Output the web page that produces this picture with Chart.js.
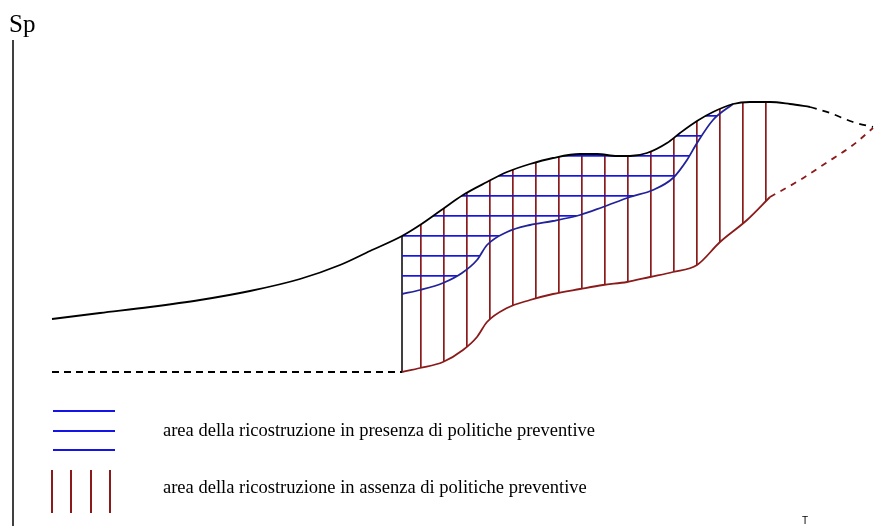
<!DOCTYPE html>
<html>
<head>
<meta charset="utf-8">
<script src="https://cdn.jsdelivr.net/npm/chart.js@4/dist/chart.umd.min.js"></script>
<style>
  html, body { margin: 0; padding: 0; background: #fff; }
  #wrap { position: relative; width: 877px; height: 526px; overflow: hidden; }
  #chart { position: absolute; left: 0; top: 0; }
  .lbl { position: absolute; white-space: nowrap; color: #000; }
  .serif { font-family: "Liberation Serif", "DejaVu Serif", serif; }
  .sw-h { position: absolute; height: 2px; background: #1414e6; }
  .sw-v { position: absolute; width: 2px; background: #8b1a1a; }
</style>
</head>
<body>
<div id="wrap">
  <canvas id="chart" width="877" height="526"></canvas>
  <div class="lbl serif" style="left:9px; top:11px; font-size:25px; line-height:25px;">Sp</div>
  <div class="lbl" style="left:802px; top:516px; font-family:'Liberation Sans', sans-serif; font-size:10px; line-height:10px;">T</div>
  <div class="sw-h" style="left:53px; top:410px; width:62px;"></div>
  <div class="sw-h" style="left:53px; top:430px; width:62px;"></div>
  <div class="sw-h" style="left:53px; top:449px; width:62px;"></div>
  <div class="sw-v" style="left:51px; top:470px; height:43px;"></div>
  <div class="sw-v" style="left:70px; top:470px; height:43px;"></div>
  <div class="sw-v" style="left:90px; top:470px; height:43px;"></div>
  <div class="sw-v" style="left:109px; top:470px; height:43px;"></div>
  <div class="lbl serif" id="leg1" style="left:163px; top:421px; font-size:18.5px; line-height:18.5px;"></div>
  <div class="lbl serif" id="leg2" style="left:163px; top:478px; font-size:18.5px; line-height:18.5px;"></div>
</div>
<script>
// time axis (t) and level axis (Sp)
const tMin = 0, tMax = 877;
const spMin = 0, spMax = 526;

// andamento senza evento (curva superiore, tratto continuo)
const blackT  = [52, 100, 150, 200, 250, 300, 340, 370, 402, 420, 440, 463, 487, 507, 530, 553, 580, 597, 617, 630, 647, 667, 680, 697, 713, 733, 750, 770, 790, 810];
const blackSp = [207, 213, 219, 226, 235, 247, 261, 275, 290, 301, 315, 331, 344, 354, 362, 368, 372, 372, 370, 370, 373, 383, 393, 405, 414, 422, 424, 424, 422, 419];
// prosecuzione tratteggiata
const blackTailT  = [810, 830, 853, 873];
const blackTailSp = [419, 413, 404, 399];

// ricostruzione con politiche preventive (blu)
const blueT  = [402, 420, 443, 462, 477, 487, 507, 530, 553, 580, 603, 630, 653, 673, 687, 697, 713, 733];
const blueSp = [232, 236, 243, 253, 266, 281, 294, 301, 305, 311, 319, 329, 336, 348, 366, 383, 406, 422];

// ricostruzione senza politiche preventive (rosso)
const redT  = [402, 420, 443, 463, 477, 487, 507, 530, 553, 580, 603, 627, 650, 673, 697, 720, 747, 770];
const redSp = [154, 158, 164, 176, 189, 204, 218, 226, 232, 237, 241, 244, 249, 254, 261, 284, 306, 329];
const redTailT  = [770, 800, 823, 853, 873];
const redTailSp = [329, 346, 361, 381, 398];

// evento: caduta verticale e livello base tratteggiato
const shockT  = [402, 402];
const shockSp = [154, 290];
const baseT  = [52, 402];
const baseSp = [154, 154];

// asse Sp
const axisT  = [13, 13];
const axisSp = [0, 486];

const legendLabels = [
    "area della ricostruzione in presenza di politiche preventive",
    "area della ricostruzione in assenza di politiche preventive"
];
document.getElementById("leg1").textContent = legendLabels[0];
document.getElementById("leg2").textContent = legendLabels[1];

function pts(xs, ys) {
    return xs.map((x, i) => ({x: x, y: ys[i]}));
}

function hatch(vertical, color, step, offset) {
    // small tile with one line, repeated as a canvas pattern
    const c = document.createElement("canvas");
    c.width = vertical ? step : 4;
    c.height = vertical ? 4 : step;
    const g = c.getContext("2d");
    g.fillStyle = color;
    if (vertical) g.fillRect(0, 0, 1.7, 4);
    else g.fillRect(0, 0, 4, 1.7);
    const p = document.createElement("canvas").getContext("2d").createPattern(c, "repeat");
    p.setTransform(vertical ? new DOMMatrix([1, 0, 0, 1, offset, 0]) : new DOMMatrix([1, 0, 0, 1, 0, offset]));
    return p;
}

const BLACK = "#000000";
const RED = "#8b1a1a";
const BLUE = "#22229a";

const vPattern = hatch(true, RED, 23, 420 - 23 * 18);
const hPattern = hatch(false, "#1414e6", 20, 155 - 20 * 7);

const line = (data, color, extra) => Object.assign({
    data: data,
    borderColor: color,
    borderWidth: 1.8,
    pointRadius: 0,
    fill: false,
    cubicInterpolationMode: "monotone"
}, extra || {});

new Chart(document.getElementById("chart"), {
    type: "line",
    data: {
        datasets: [
            line(pts(blackT, blackSp), BLACK),
            line(pts(blueT, blueSp), BLUE, {fill: {target: 0}, backgroundColor: hPattern}),
            line(pts(redT, redSp), RED, {fill: {target: 0}, backgroundColor: vPattern}),
            line(pts(shockT, shockSp), BLACK, {borderWidth: 1.5}),
            line(pts(baseT, baseSp), BLACK, {borderDash: [7, 5]}),
            line(pts(blackTailT, blackTailSp), BLACK, {borderDash: [7, 6]}),
            line(pts(redTailT, redTailSp), RED, {borderDash: [6, 6]}),
            line(pts(axisT, axisSp), BLACK, {borderWidth: 1.5})
        ]
    },
    options: {
        responsive: false,
        animation: false,
        events: [],
        layout: {padding: 0},
        plugins: {legend: {display: false}, tooltip: {enabled: false}},
        scales: {
            x: {type: "linear", min: tMin, max: tMax, display: false},
            y: {type: "linear", min: spMin, max: spMax, display: false}
        }
    }
});
</script>
</body>
</html>
